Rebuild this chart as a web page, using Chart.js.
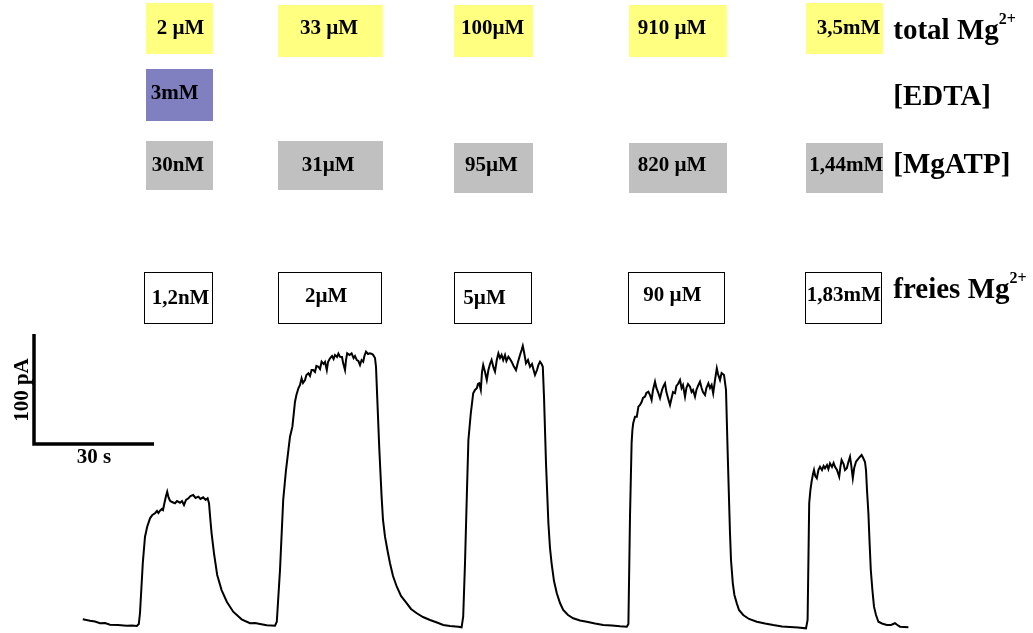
<!DOCTYPE html>
<html>
<head>
<meta charset="utf-8">
<script src="https://cdn.jsdelivr.net/npm/chart.js@4.4.1/dist/chart.umd.min.js"></script>
<style>
  html, body { margin: 0; padding: 0; background: #ffffff; }
  #wrap { position: relative; width: 1033px; height: 633px; overflow: hidden; font-family: "Liberation Serif", "Times New Roman", serif; font-weight: bold; color: #000; }
  #c { position: absolute; left: 0; top: 0; }
  .box { position: absolute; box-sizing: border-box; }
  .txt { position: absolute; white-space: nowrap; line-height: 1; }
</style>
</head>
<body>
<div id="wrap">
  <canvas id="c" width="1033" height="633"></canvas>
</div>
<script>
// ---- Data (time in s, current in pA) ----
const timeS = [
  0.2, 2.0, 3.25, 4.5, 5.75, 7.0, 9.0, 11.2, 12.5, 13.7,
  14.2, 14.5, 15.2, 15.75, 16.3, 17.0, 17.6, 18.25, 18.75, 19.1,
  19.5, 20.0, 20.25, 20.6, 21.0, 21.3, 21.6, 22.0, 22.5, 23.25,
  23.75, 24.5, 25.0, 25.5, 26.0, 26.6, 27.1, 27.8, 28.4, 29.1,
  29.6, 30.3, 30.9, 31.4, 31.75, 32.1, 32.4, 33.0, 33.8, 34.9,
  36.2, 37.8, 39.9, 42.0, 43.25, 44.5, 46.2, 48.25, 48.7, 49.5,
  50.3, 51.0, 52.0, 52.6, 53.25, 53.6, 54.1, 54.5, 54.9, 55.25,
  55.75, 56.1, 56.6, 57.0, 57.4, 57.8, 58.25, 58.6, 59.1, 59.5,
  59.9, 60.4, 60.75, 61.2, 61.5, 62.0, 62.5, 62.9, 63.25, 63.75,
  64.1, 64.5, 65.0, 65.3, 65.75, 66.0, 66.3, 66.9, 67.4, 67.9,
  68.25, 68.7, 69.1, 69.5, 69.9, 70.3, 70.6, 71.0, 71.5, 72.0,
  72.5, 72.8, 73.25, 73.5, 73.8, 74.3, 74.9, 75.25, 75.75, 76.4,
  77.0, 77.75, 78.7, 79.75, 81.2, 82.25, 83.7, 85.25, 87.0, 88.75,
  90.3, 92.0, 94.1, 94.9, 95.3, 95.75, 96.2, 96.6, 97.2, 97.8,
  98.25, 98.7, 99.0, 99.3, 99.7, 100.0, 100.3, 100.75, 101.2, 101.6,
  102.0, 102.4, 102.9, 103.25, 103.7, 104.1, 104.5, 104.9, 105.3, 105.75,
  106.1, 106.6, 107.0, 107.4, 107.9, 108.5, 109.0, 109.5, 109.9, 110.2,
  110.5, 111.0, 111.5, 112.0, 112.5, 112.9, 113.25, 113.75, 114.1, 114.5,
  114.9, 115.2, 115.5, 116.0, 116.6, 117.0, 117.4, 118.0, 118.7, 119.5,
  120.3, 121.5, 122.8, 124.5, 126.2, 128.25, 130.3, 132.5, 134.5, 136.2,
  136.6, 137.0, 137.4, 137.6, 137.8, 138.25, 138.7, 139.1, 139.5, 139.9,
  140.25, 140.75, 141.1, 141.6, 142.0, 142.4, 142.75, 143.25, 143.6, 144.0,
  144.5, 145.0, 145.4, 145.75, 146.1, 146.5, 147.0, 147.4, 147.75, 148.25,
  148.6, 149.0, 149.5, 149.9, 150.25, 150.75, 151.1, 151.5, 152.0, 152.4,
  152.75, 153.25, 153.6, 154.0, 154.5, 154.9, 155.25, 155.75, 156.1, 156.6,
  157.0, 157.4, 157.8, 158.25, 158.7, 159.0, 159.5, 159.9, 160.5, 161.0,
  161.4, 162.0, 162.25, 162.7, 163.1, 163.7, 164.25, 165.3, 166.75, 168.7,
  170.75, 172.8, 175.0, 177.0, 179.0, 181.0, 181.4, 181.8, 182.1, 182.4,
  182.75, 183.0, 183.3, 183.7, 184.1, 184.5, 185.0, 185.4, 185.75, 186.25,
  186.6, 187.0, 187.5, 187.9, 188.25, 188.75, 189.3, 189.6, 189.9, 190.4,
  190.75, 191.2, 191.6, 192.0, 192.3, 192.7, 193.05, 193.5, 194.0, 194.5,
  194.9, 195.3, 195.75, 196.0, 196.25, 196.6, 196.9, 197.2, 197.6, 198.0,
  198.5, 199.1, 200.0, 201.2, 202.25, 203.25, 204.0, 204.5, 205.5, 206.6
];
const currentPA = [
  7.0, 5.7, 5.0, 3.4, 3.6, 2.1, 1.8, 1.2, 1.4, 0.9,
  2.7, 12.7, 58.2, 82.1, 91.2, 98.8, 101.8, 103.4, 105.5, 103.6,
  105.7, 107.3, 106.4, 112.5, 119.1, 123.0, 118.2, 114.8, 113.6, 112.5,
  114.5, 113.0, 114.5, 110.9, 115.5, 117.0, 119.1, 120.0, 117.3, 118.5,
  116.4, 117.9, 115.5, 117.0, 112.5, 97.3, 85.2, 67.0, 47.3, 33.6,
  23.0, 13.9, 7.0, 3.4, 3.6, 2.7, 1.5, 1.2, 4.8, 51.8,
  115.5, 142.7, 173.0, 182.1, 204.8, 210.9, 217.0, 220.0, 226.1, 221.8,
  224.5, 229.1, 230.6, 228.2, 233.6, 233.6, 231.8, 237.3, 236.6, 234.5,
  241.2, 239.1, 240.9, 233.6, 240.9, 244.3, 246.4, 243.6, 247.3, 245.5,
  248.6, 245.7, 245.5, 239.7, 233.6, 242.7, 248.8, 247.3, 248.8, 244.5,
  246.4, 242.7, 241.8, 238.2, 242.7, 241.2, 246.4, 250.3, 248.2, 248.8,
  248.2, 247.3, 244.5, 236.6, 209.4, 163.9, 118.5, 97.3, 82.1, 69.1,
  57.9, 46.4, 36.6, 28.2, 21.5, 16.4, 12.5, 9.1, 6.4, 4.1,
  1.8, 0.9, 0.3, -0.3, 9.4, 57.9, 118.5, 170.0, 194.3, 212.5,
  215.5, 217.0, 220.9, 221.5, 215.5, 231.8, 238.2, 231.8, 224.5, 233.6,
  239.1, 242.7, 235.5, 232.1, 242.7, 248.8, 244.5, 247.3, 242.7, 247.3,
  241.8, 245.7, 243.6, 241.2, 237.3, 233.6, 240.9, 247.3, 251.8, 255.5,
  250.0, 239.7, 242.7, 236.6, 239.1, 233.6, 229.1, 233.6, 238.2, 241.2,
  239.1, 236.6, 209.4, 148.8, 94.3, 71.8, 57.9, 41.8, 30.6, 21.8,
  15.5, 10.9, 7.9, 5.9, 4.8, 3.2, 1.8, 1.4, 0.6, 0.3,
  2.7, 100.3, 167.0, 179.1, 185.2, 191.2, 191.2, 200.3, 201.8, 204.5,
  208.2, 209.4, 212.7, 213.9, 210.9, 206.4, 215.5, 223.0, 217.3, 213.6,
  208.0, 215.5, 219.1, 221.5, 213.6, 208.2, 201.8, 208.2, 213.6, 212.5,
  219.1, 220.9, 224.5, 217.3, 220.0, 209.4, 217.3, 220.9, 218.5, 213.6,
  215.5, 209.4, 215.5, 219.1, 223.0, 217.3, 213.6, 210.9, 217.3, 221.5,
  217.3, 220.0, 212.5, 224.5, 235.2, 230.0, 224.5, 230.9, 229.1, 215.5,
  160.9, 85.2, 60.9, 39.7, 29.1, 21.5, 15.5, 10.9, 7.3, 4.8,
  3.2, 1.8, 0.5, 0.0, -0.5, -1.2, 6.4, 112.5, 124.5, 132.1,
  139.1, 142.7, 137.3, 135.2, 142.7, 145.7, 142.7, 146.4, 144.3, 147.3,
  143.6, 148.8, 145.5, 149.1, 145.7, 142.7, 136.6, 145.5, 151.8, 148.2,
  142.7, 144.3, 150.0, 154.8, 147.3, 135.2, 144.5, 150.3, 152.7, 154.8,
  156.4, 153.6, 150.0, 142.7, 124.5, 103.4, 76.4, 51.8, 33.6, 18.5,
  10.9, 4.8, 3.2, 1.8, 1.8, 3.4, 1.4, 0.3, 0.0, -0.3
];

// ---- Annotation texts (one column per Mg2+ application) ----
const totalMgLabels = ["2 µM", "33 µM", "100µM", "910 µM", "3,5mM"];
const edtaLabels    = ["3mM", "", "", "", ""];
const mgatpLabels   = ["30nM", "31µM", "95µM", "820 µM", "1,44mM"];
const freeMgLabels  = ["1,2nM", "2µM", "5µM", "90 µM", "1,83mM"];
const rowTitles     = ["total Mg", "[EDTA]", "[MgATP]", "freies Mg"];
const scaleBarTime  = 30;   // s
const scaleBarCurr  = 100;  // pA
const scaleBarTexts = ["30 s", "100 pA"];

// ---- Layout (pixels) ----
const colBoxes = [
  [146, 67], [277.7, 105.6], [454.3, 79], [629, 97.7], [805.7, 77.6]
];
const whiteBoxes = [
  [144.3, 68.4], [277.7, 104], [454.3, 77.4], [628.3, 96.7], [805, 77.3]
];
const rowGeom = {
  total: { tops: [3, 5, 5, 5, 3], h: [51, 52, 52, 52, 51], color: "#ffff80" },
  edta:  { tops: [69, 69, 69, 69, 69], h: [52, 52, 52, 52, 52], color: "#8080c0" },
  atp:   { tops: [141, 141, 142.7, 142.7, 142.7], h: [49, 49, 50, 50, 50], color: "#c0c0c0" }
};
const txtLeft = {
  total: [156.7, 300, 461, 637.7, 816.7],
  edta:  [150.7],
  atp:   [151.7, 301.7, 465, 637.7, 809.3],
  free:  [151.7, 305, 463.3, 643.3, 806.7]
};
const txtBase = {
  total: [35, 35, 35, 35, 34.3],
  edta:  [99.3],
  atp:   [171.7, 171.7, 171.7, 171.7, 171.7],
  free:  [305, 302.7, 305, 301.7, 301.7]
};

const wrap = document.getElementById('wrap');
function addBox(x, y, w, h, bg, border) {
  const d = document.createElement('div');
  d.className = 'box';
  d.style.left = x + 'px'; d.style.top = y + 'px';
  d.style.width = w + 'px'; d.style.height = h + 'px';
  if (bg) d.style.background = bg;
  if (border) d.style.border = border;
  wrap.appendChild(d);
}
function addText(str, x, baseline, fs, extra) {
  const d = document.createElement('div');
  d.className = 'txt';
  d.style.fontSize = fs + 'px';
  d.style.left = x + 'px';
  d.style.top = (baseline - 0.8375 * fs) + 'px';
  d.innerHTML = str;
  if (extra) Object.assign(d.style, extra);
  wrap.appendChild(d);
  return d;
}
function esc(s){ return s.replace(/&/g,'&amp;').replace(/</g,'&lt;'); }

// coloured rows
colBoxes.forEach((cb, i) => {
  addBox(cb[0], rowGeom.total.tops[i], cb[1], rowGeom.total.h[i], rowGeom.total.color);
  if (edtaLabels[i]) addBox(cb[0], rowGeom.edta.tops[i], cb[1], rowGeom.edta.h[i], rowGeom.edta.color);
  addBox(cb[0], rowGeom.atp.tops[i], cb[1], rowGeom.atp.h[i], rowGeom.atp.color);
});
whiteBoxes.forEach((wb) => addBox(wb[0], 272.3, wb[1], 51.7, null, "1.5px solid #000"));

const boxFs = 21;
totalMgLabels.forEach((s, i) => addText(esc(s), txtLeft.total[i], txtBase.total[i], boxFs));
edtaLabels.forEach((s, i) => { if (s) addText(esc(s), txtLeft.edta[i], txtBase.edta[i], boxFs); });
mgatpLabels.forEach((s, i) => addText(esc(s), txtLeft.atp[i], txtBase.atp[i], boxFs));
freeMgLabels.forEach((s, i) => addText(esc(s), txtLeft.free[i], txtBase.free[i], boxFs));

// row titles
const titleFs = 29;
addText(esc(rowTitles[0]) + '<sup style="font-size:16px;vertical-align:0;position:relative;top:-15px;">2+</sup>', 893.3, 39, titleFs);
addText(esc(rowTitles[1]), 893.3, 105, titleFs);
addText(esc(rowTitles[2]), 893.3, 173, titleFs);
addText(esc(rowTitles[3]) + '<sup style="font-size:16px;vertical-align:0;position:relative;top:-15px;">2+</sup>', 893.3, 298, titleFs);

// scale bar labels
addText(scaleBarTexts[0], 76.7, 463.3, 21);
const vt = addText(scaleBarTexts[1], 21.4, 0, 21, {});
vt.style.top = '390px';
vt.style.transform = 'translate(-50%, -50%) rotate(-90deg)';

// ---- Chart ----
const scaleBarAnchor = { x: 34, y: 444 };
const scaleBarPlugin = {
  id: 'scaleBar',
  afterDatasetsDraw(chart) {
    const { ctx, scales: { x, y } } = chart;
    const dx = x.getPixelForValue(scaleBarTime) - x.getPixelForValue(0);
    const dy = y.getPixelForValue(0) - y.getPixelForValue(scaleBarCurr);
    ctx.save();
    ctx.strokeStyle = '#000';
    ctx.lineWidth = 3.5;
    ctx.lineCap = 'butt';
    ctx.beginPath();
    ctx.moveTo(scaleBarAnchor.x, scaleBarAnchor.y - dy);
    ctx.lineTo(scaleBarAnchor.x, scaleBarAnchor.y);
    ctx.lineTo(scaleBarAnchor.x + dx, scaleBarAnchor.y);
    ctx.stroke();
    ctx.restore();
  }
};

const points = timeS.map((t, i) => ({ x: t, y: currentPA[i] }));

new Chart(document.getElementById('c'), {
  type: 'line',
  data: {
    datasets: [{
      data: points,
      borderColor: '#000000',
      borderWidth: 2,
      pointRadius: 0,
      tension: 0,
      fill: false
    }]
  },
  options: {
    responsive: false,
    animation: false,
    devicePixelRatio: 1,
    layout: { padding: 0 },
    plugins: { legend: { display: false }, tooltip: { enabled: false } },
    scales: {
      x: { type: 'linear', display: false, min: -20.5, max: 237.75 },
      y: { type: 'linear', display: false, min: -5.4545, max: 570 }
    }
  },
  plugins: [scaleBarPlugin]
});
</script>
</body>
</html>
